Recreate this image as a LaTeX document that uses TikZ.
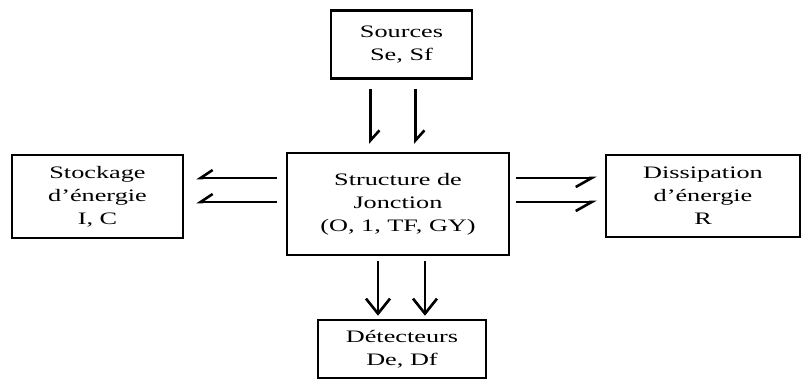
\documentclass[tikz,border=0pt]{standalone}
\usepackage{fontspec}
\setmainfont{Liberation Serif}[FakeStretch=1.5]
\usetikzlibrary{arrows.meta}
\begin{document}
\begin{tikzpicture}[x=1pt,y=-1pt,
  bloc/.style={draw,line width=2.6pt,align=center,inner sep=0pt,
    font=\fontsize{17.5}{23}\selectfont},
  flot/.style={line width=2.6pt},
  demi/.style={flot,-{Straight Barb[left,length=10pt,width=18pt]}},
  demig/.style={flot,-{Straight Barb[right,length=12pt,width=16pt]}},
  demid/.style={flot,-{Straight Barb[right,length=16pt,width=18pt]}},
  plein/.style={flot,-{Straight Barb[length=15pt,width=24pt]}}]
\useasboundingbox (0,0) rectangle (802,381);
\node[bloc,minimum width=141pt,minimum height=68pt] (src) at (401.5,44.5) {Sources\\Se, Sf};
\node[bloc,minimum width=222pt,minimum height=102pt] (jct) at (398,204) {Structure de\\Jonction\\(O, 1, TF, GY)};
\node[bloc,minimum width=171pt,minimum height=83pt] (stock) at (97.5,196.5) {Stockage\\d'énergie\\I, C};
\node[bloc,minimum width=194pt,minimum height=82pt] (diss) at (703,196) {Dissipation\\d'énergie\\R};
\node[bloc,minimum width=168pt,minimum height=58pt] (det) at (402,349) {Détecteurs\\De, Df};
\draw[demi,shorten <=9pt,shorten >=8pt] ([xshift=-31pt]src.south) -- ([xshift=-31pt]src.south |- jct.north);
\draw[demi,shorten <=9pt,shorten >=8pt] ([xshift=14pt]src.south) -- ([xshift=14pt]src.south |- jct.north);
\draw[demig,shorten <=9pt,shorten >=12pt] ([yshift=26pt]jct.west) -- ([yshift=26pt]jct.west -| stock.east);
\draw[demig,shorten <=9pt,shorten >=12pt] ([yshift=2pt]jct.west) -- ([yshift=2pt]jct.west -| stock.east);
\draw[demid,shorten <=6pt,shorten >=8pt] ([yshift=26pt]jct.east) -- ([yshift=26pt]jct.east -| diss.west);
\draw[demid,shorten <=6pt,shorten >=8pt] ([yshift=2pt]jct.east) -- ([yshift=2pt]jct.east -| diss.west);
\draw[plein,shorten <=5pt,shorten >=3pt] ([xshift=-20pt]jct.south) -- ([xshift=-20pt]jct.south |- det.north);
\draw[plein,shorten <=5pt,shorten >=3pt] ([xshift=27pt]jct.south) -- ([xshift=27pt]jct.south |- det.north);
\end{tikzpicture}
\end{document}
